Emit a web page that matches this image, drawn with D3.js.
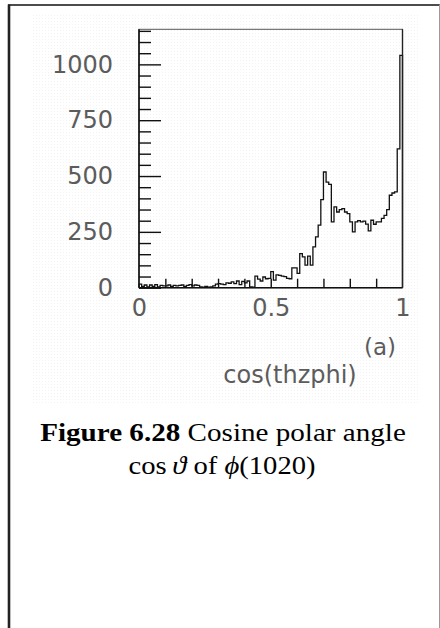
<!DOCTYPE html>
<html>
<head>
<meta charset="utf-8">
<script src="https://cdn.jsdelivr.net/npm/d3@7/dist/d3.min.js"></script>
<style>
  html, body { margin: 0; padding: 0; background: #fff; }
  svg { display: block; }
</style>
</head>
<body>
<svg id="chart" width="440" height="628"></svg>
<script>
// cos(thzphi) histogram: 100 bins of width 0.01 over [0, 1]
const binLow = 0;
const binWidth = 0.01;
const counts = [
  16, 6, 12, 4, 12, 6, 14, 4, 10, 8,
  8, 12, 6, 10, 8, 10, 12, 6, 10, 14,
  8, 12, 10, 4, 3, 6, 2, 4, 8, 16,
  18, 16, 14, 22, 20, 26, 18, 30, 14, 28,
  22, 30, 4, 2, 52, 38, 30, 48, 40, 42,
  72, 34, 57, 55, 52, 50, 42, 40, 89, 89,
  64, 153, 138, 101, 141, 101, 183, 228, 280, 394,
  518, 473, 463, 295, 362, 339, 350, 354, 339, 332,
  295, 250, 295, 300, 295, 298, 285, 254, 302, 284,
  295, 295, 310, 324, 350, 414, 424, 429, 622, 1040
];
const yMajorTicks = [0, 250, 500, 750, 1000];
const yMinorTicks = [50, 100, 150, 200, 300, 350, 400, 450, 550, 600, 650, 700, 800, 850, 900, 950, 1050, 1100, 1150];
const xTicks = [0.1, 0.2, 0.3, 0.4, 0.5, 0.6, 0.7, 0.8, 0.9];
const xLabels = [0, 0.5, 1];
const yMax = 1157;

const svg = d3.select("#chart");

// faint dotted backdrop behind the plot
const defs = svg.append("defs");
const pat = defs.append("pattern")
  .attr("id", "dots").attr("width", 3).attr("height", 3)
  .attr("patternUnits", "userSpaceOnUse");
pat.append("rect").attr("width", 1).attr("height", 1).attr("fill", "#f3f3f3");
svg.append("rect")
  .attr("x", 33).attr("y", 13).attr("width", 387).attr("height", 392)
  .attr("fill", "url(#dots)");

// page frame
svg.append("line").attr("x1", 8).attr("x2", 440).attr("y1", 5).attr("y2", 5)
  .attr("stroke", "#111").attr("stroke-width", 1.6);
svg.append("line").attr("x1", 9).attr("x2", 9).attr("y1", 4.5).attr("y2", 628)
  .attr("stroke", "#222").attr("stroke-width", 2.6);
svg.append("line").attr("x1", 439.5).attr("x2", 439.5).attr("y1", 4.5).attr("y2", 628)
  .attr("stroke", "#9a9a9a").attr("stroke-width", 1);

// plot area
const plotL = 139, plotR = 402.5, plotT = 29.3, plotB = 287.7;
const x = d3.scaleLinear().domain([0, 1]).range([plotL, plotR]);
const y = d3.scaleLinear().domain([0, yMax]).range([plotB, plotT]);

const axisFont = "'DejaVu Sans', 'Liberation Sans', Arial, sans-serif";
const axisInk = "#5c5c5c";

// histogram outline as a step path
const pts = [[x(binLow), y(0)]];
counts.forEach((c, i) => {
  const x0 = x(binLow + i * binWidth), x1 = x(binLow + (i + 1) * binWidth);
  pts.push([x0, y(c)], [x1, y(c)]);
});
pts.push([x(binLow + counts.length * binWidth), y(0)]);
svg.append("path")
  .attr("d", d3.line()(pts))
  .attr("fill", "none").attr("stroke", "#111").attr("stroke-width", 1.3)
  .attr("stroke-linejoin", "miter");

// frame of the plot
svg.append("rect")
  .attr("x", plotL).attr("y", plotT).attr("width", plotR - plotL).attr("height", plotB - plotT)
  .attr("fill", "none").attr("stroke", "#555").attr("stroke-width", 1);
svg.append("line").attr("x1", plotL).attr("x2", plotL).attr("y1", plotT).attr("y2", plotB)
  .attr("stroke", "#111").attr("stroke-width", 1.6);
svg.append("line").attr("x1", plotL).attr("x2", plotR).attr("y1", plotB).attr("y2", plotB)
  .attr("stroke", "#111").attr("stroke-width", 1.6);
svg.append("line").attr("x1", plotR).attr("x2", plotR).attr("y1", plotT).attr("y2", plotB)
  .attr("stroke", "#222").attr("stroke-width", 1.4);

// y axis: inward major and minor ticks, labels on the left
const yMinor = svg.append("g").attr("transform", `translate(${plotL},0)`)
  .call(d3.axisLeft(y).tickValues(yMinorTicks).tickSize(-12).tickFormat(""));
const yMajor = svg.append("g").attr("transform", `translate(${plotL},0)`)
  .call(d3.axisLeft(y).tickValues(yMajorTicks).tickSize(-22).tickPadding(26).tickFormat(d3.format("d")));
[yMinor, yMajor].forEach(g => {
  g.select(".domain").remove();
  g.selectAll(".tick line").attr("stroke", "#111").attr("stroke-width", 1.4);
});
yMajor.selectAll(".tick text")
  .attr("font-family", axisFont).attr("font-size", 24).attr("fill", axisInk);

// x axis: inward ticks every 0.1, labels at 0, 0.5, 1
const xTick = svg.append("g").attr("transform", `translate(0,${plotB})`)
  .call(d3.axisBottom(x).tickValues(xTicks).tickSize(-9).tickFormat(""));
xTick.select(".domain").remove();
xTick.selectAll(".tick line").attr("stroke", "#111").attr("stroke-width", 1.4);
const xLab = svg.append("g").attr("transform", `translate(0,${plotB})`)
  .call(d3.axisBottom(x).tickValues(xLabels).tickSize(0).tickPadding(11).tickFormat(d3.format("")));
xLab.select(".domain").remove();
xLab.selectAll(".tick text")
  .attr("font-family", axisFont).attr("font-size", 24).attr("fill", axisInk);

// axis title and panel tag
svg.append("text").attr("x", 380).attr("y", 355).attr("text-anchor", "middle")
  .attr("font-family", axisFont).attr("font-size", 23).attr("fill", axisInk).text("(a)");
svg.append("text").attr("x", 290).attr("y", 383).attr("text-anchor", "middle")
  .attr("font-family", axisFont).attr("font-size", 24).attr("fill", axisInk).text("cos(thzphi)");

// caption
const serif = "'Liberation Serif', 'Times New Roman', serif";
const cap1 = svg.append("text")
  .attr("transform", "translate(223,441) scale(1.12,1)")
  .attr("text-anchor", "middle").attr("font-family", serif).attr("font-size", 26).attr("fill", "#000");
cap1.append("tspan").attr("font-weight", "bold").text("Figure 6.28");
cap1.append("tspan").text(" Cosine polar angle");

const cap2 = svg.append("text")
  .attr("transform", "translate(222,474) scale(1.1,1)")
  .attr("text-anchor", "middle").attr("font-family", serif).attr("font-size", 26).attr("fill", "#000");
cap2.append("tspan").text("cos\u2009");
cap2.append("tspan").attr("font-style", "italic").text("\u03D1");
cap2.append("tspan").text(" of ");
cap2.append("tspan").attr("font-style", "italic").text("\u03D5");
cap2.append("tspan").text("(1020)");
</script>
</body>
</html>
